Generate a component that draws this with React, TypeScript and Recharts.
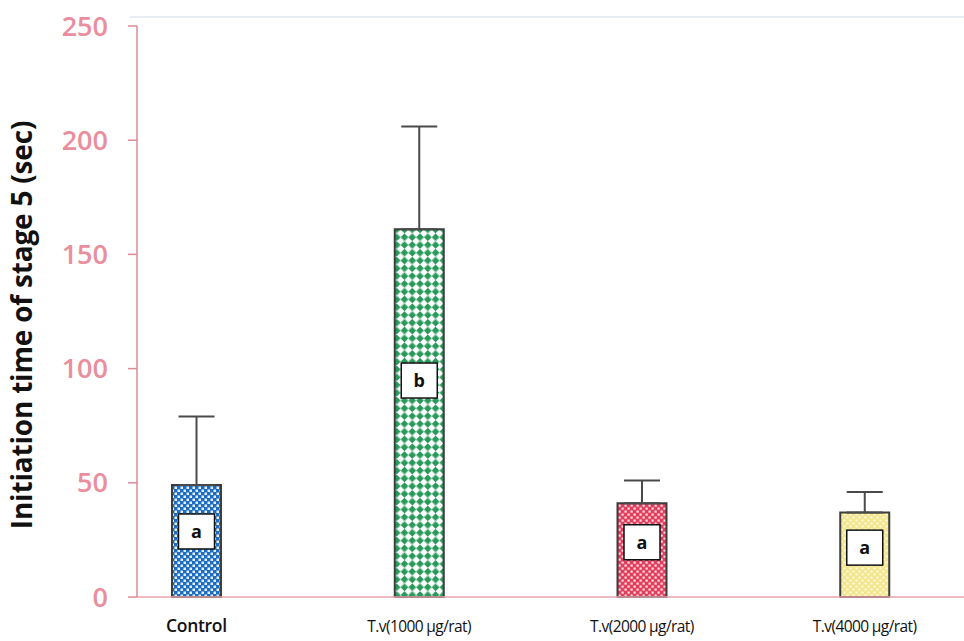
import { BarChart, Bar, XAxis, YAxis, Cell, ErrorBar, LabelList } from "recharts";

const groups = ["Control", "T.v(1000 µg/rat)", "T.v(2000 µg/rat)", "T.v(4000 µg/rat)"];
const means = [49, 161, 41, 37];
const sdUp = [30, 45, 10, 9];
const letters = ["a", "b", "a", "a"];
const yTicks = [0, 50, 100, 150, 200, 250];
const fills = ["url(#dotsBlue)", "url(#diamondGreen)", "url(#dotsRed)", "url(#dotsYellow)"];

const data = groups.map((g, i) => ({
  name: g,
  value: means[i],
  err: [0, sdUp[i]],
  letter: letters[i],
}));

const PINK = "#ea8e9d";

// white box with the significance letter, sitting a bit below the middle of the bar
const LetterBox = (props: any) => {
  const { x, y, width, height, value } = props;
  const cx = x + width / 2;
  const cy = y + height * 0.41;
  return (
    <g>
      <rect x={cx - 18} y={cy - 17} width={36} height={35} fill="#fff" stroke="#111" strokeWidth={1.5} />
      <text x={cx} y={cy + 7} textAnchor="middle" fontSize={18} fontWeight={700} fill="#111" fontFamily="'Open Sans', sans-serif">
        {value}
      </text>
    </g>
  );
};

const XTick = ({ x, y, payload }: any) => {
  const isControl = payload.value === "Control";
  return (
    <text
      x={x}
      y={y + 27}
      textAnchor="middle"
      fontSize={isControl ? 17.5 : 15.5}
      fontWeight={isControl ? 600 : 400}
      fill="#111"
      fontFamily="'Open Sans', sans-serif"
      letterSpacing={isControl ? -0.3 : -0.6}
    >
      {payload.value}
    </text>
  );
};

const YLabel = () => (
  <text
    x={0}
    y={0}
    transform="translate(32, 325) rotate(-90)"
    textAnchor="middle"
    fontSize={28}
    fontWeight={700}
    fill="#111"
    fontFamily="'Open Sans', sans-serif"
    letterSpacing={-0.2}
  >
    Initiation time of stage 5 (sec)
  </text>
);

export default function App() {
  return (
    <div style={{ position: "absolute", left: 0, top: 0, width: 964, height: 641, background: "#fff" }}>
      <div style={{ position: "absolute", left: 130, top: 16, width: 834, height: 2, background: "#e9eef4" }} />
      <BarChart
        width={964}
        height={641}
        data={data}
        margin={{ top: 26, right: 0, bottom: 0, left: 0 }}
        style={{ fontFamily: "'Open Sans', sans-serif" }}
      >
        <defs>
          <pattern id="dotsBlue" width="6" height="6" patternUnits="userSpaceOnUse">
            <rect width="6" height="6" fill="#1c6cc0" />
            <rect x="0.5" y="0.5" width="2.5" height="2.5" fill="#e6f0fb" />
            <rect x="3.5" y="3.5" width="2.5" height="2.5" fill="#e6f0fb" />
          </pattern>
          <pattern id="diamondGreen" width="11" height="11" patternUnits="userSpaceOnUse" patternTransform="rotate(45)">
            <rect width="11" height="11" fill="#ffffff" />
            <rect x="0" y="0" width="5.5" height="5.5" fill="#2a9a5c" />
            <rect x="5.5" y="5.5" width="5.5" height="5.5" fill="#2a9a5c" />
          </pattern>
          <pattern id="dotsRed" width="6" height="6" patternUnits="userSpaceOnUse">
            <rect width="6" height="6" fill="#e23d5c" />
            <rect x="0.5" y="0.5" width="2.2" height="2.2" fill="#fbe3e8" />
            <rect x="3.5" y="3.5" width="2.2" height="2.2" fill="#fbe3e8" />
          </pattern>
          <pattern id="dotsYellow" width="6" height="6" patternUnits="userSpaceOnUse">
            <rect width="6" height="6" fill="#f3e68c" />
            <circle cx="1.5" cy="1.5" r="1.3" fill="#fdf8d6" />
            <circle cx="4.5" cy="4.5" r="1.3" fill="#fdf8d6" />
          </pattern>
        </defs>
        <XAxis
          dataKey="name"
          height={44}
          padding={{ left: -52, right: -12 }}
          axisLine={{ stroke: "#e7a3ad", strokeWidth: 1.5 }}
          tickLine={false}
          tick={<XTick />}
          interval={0}
        />
        <YAxis
          width={137}
          domain={[0, 250]}
          ticks={yTicks}
          interval={0}
          tickSize={9}
          tickMargin={20}
          axisLine={{ stroke: "#dc8b97", strokeWidth: 1.5 }}
          tickLine={{ stroke: "#dc8b97", strokeWidth: 1.5 }}
          tick={{ fill: PINK, fontSize: 27, fontWeight: 600 }}
          label={<YLabel />}
        />
        <Bar dataKey="value" barSize={49} stroke="#3d3d3d" strokeWidth={2} isAnimationActive={false}>
          {data.map((d, i) => (
            <Cell key={d.name} fill={fills[i]} />
          ))}
          <ErrorBar dataKey="err" direction="y" width={18} stroke="#4a4a4a" strokeWidth={2} isAnimationActive={false} />
          <LabelList dataKey="letter" content={<LetterBox />} />
        </Bar>
      </BarChart>
    </div>
  );
}
